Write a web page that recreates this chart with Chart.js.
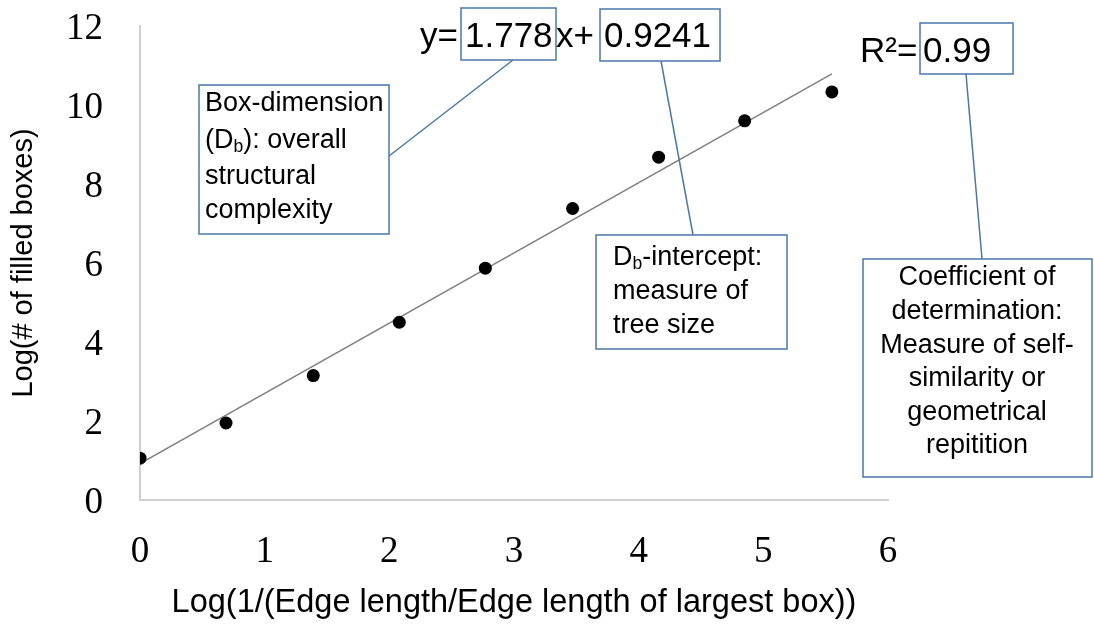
<!DOCTYPE html>
<html>
<head>
<meta charset="utf-8">
<script src="https://cdn.jsdelivr.net/npm/chart.js@4"></script>
<style>
  html, body { margin: 0; padding: 0; background: #fff; }
  #box-chart { display: block; }
</style>
</head>
<body>
<canvas id="box-chart" width="1094" height="628"></canvas>
<script>
// data
const logInvEdge = [0, 0.69, 1.39, 2.08, 2.77, 3.47, 4.16, 4.85, 5.55];
const logFilled = [1.06, 1.95, 3.15, 4.5, 5.87, 7.38, 8.68, 9.6, 10.33];

// trendline ends (y = 1.778x + 0.9241)
const trendX = [0, 5.55];
const trendY = [0.92, 10.79];

const slopeText = "1.778";
const interceptText = "0.9241";
const r2Text = "0.99";

const xTicks = [0, 1, 2, 3, 4, 5, 6];
const yTicks = [0, 2, 4, 6, 8, 10, 12];

const xTitle = "Log(1/(Edge length/Edge length of largest box))";
const yTitle = "Log(# of filled boxes)";

const canvas = document.querySelector("#box-chart");
const ctx = canvas.getContext("2d");

const sans = "'Liberation Sans', Arial, sans-serif";
const serif = "'Liberation Serif', 'Times New Roman', serif";
const blue = "#4a78a8";

// text boxes and leader lines, in canvas pixels
const boxes = [
  [461, 8, 556, 60],
  [600, 9, 720, 61],
  [920, 23, 1013, 74],
  [199, 85, 389, 234],
  [596, 235, 787, 349],
  [863, 259, 1092, 477],
];
const leaders = [
  [513, 60, 389, 156],
  [661, 61, 693, 235],
  [966, 74, 982, 259],
];

// draw a line of text, parts with sub:true are drawn as subscript
const drawRich = (c, parts, x, y, size, align) => {
  let w = 0;
  parts.forEach((p) => {
    c.font = (p.sub ? size * 0.65 : size) + "px " + sans;
    w += c.measureText(p.t).width;
  });
  let cx = align === "center" ? x - w / 2 : x;
  parts.forEach((p) => {
    c.font = (p.sub ? size * 0.65 : size) + "px " + sans;
    c.fillText(p.t, cx, p.sub ? y + size * 0.22 : y);
    cx += c.measureText(p.t).width;
  });
};

const notesPlugin = {
  id: "notes",
  afterDraw(chart) {
    const c = chart.ctx;
    c.save();
    c.strokeStyle = blue;
    c.lineWidth = 1.5;
    leaders.forEach((l) => {
      c.beginPath();
      c.moveTo(l[0], l[1]);
      c.lineTo(l[2], l[3]);
      c.stroke();
    });
    boxes.forEach((b) => {
      c.fillStyle = "#fff";
      c.fillRect(b[0], b[1], b[2] - b[0], b[3] - b[1]);
      c.strokeRect(b[0], b[1], b[2] - b[0], b[3] - b[1]);
    });

    c.fillStyle = "#000";
    c.textBaseline = "alphabetic";
    c.textAlign = "left";
    c.font = "35px " + sans;
    c.fillText("y=", 420, 47);
    c.fillText(slopeText, 465, 47);
    c.fillText("x+", 556, 47);
    c.fillText(interceptText, 604, 47);
    c.fillText("R\u00b2=", 860, 62);
    c.fillText(r2Text, 923, 62);

    c.textBaseline = "middle";
    const fs = 27;
    drawRich(c, [{ t: "Box-dimension" }], 205, 104, fs, "left");
    drawRich(c, [{ t: "(D" }, { t: "b", sub: true }, { t: "): overall" }], 205, 141, fs, "left");
    drawRich(c, [{ t: "structural" }], 205, 177, fs, "left");
    drawRich(c, [{ t: "complexity" }], 205, 211, fs, "left");

    drawRich(c, [{ t: "D" }, { t: "b", sub: true }, { t: "-intercept:" }], 613, 258, fs, "left");
    drawRich(c, [{ t: "measure of" }], 613, 292, fs, "left");
    drawRich(c, [{ t: "tree size" }], 613, 326, fs, "left");

    const coef = ["Coefficient of", "determination:", "Measure of self-", "similarity or", "geometrical", "repitition"];
    coef.forEach((t, i) => {
      drawRich(c, [{ t: t }], 977, 278 + i * 33.6, fs, "center");
    });
    c.restore();
  },
};

new Chart(ctx, {
  type: "scatter",
  data: {
    datasets: [
      {
        label: "points",
        data: logInvEdge.map((x, i) => ({ x: x, y: logFilled[i] })),
        backgroundColor: "#000",
        borderColor: "#000",
        pointRadius: 6.5,
        pointHoverRadius: 6.5,
        borderWidth: 0,
      },
      {
        label: "trend",
        type: "line",
        data: trendX.map((x, i) => ({ x: x, y: trendY[i] })),
        borderColor: "#7f7f7f",
        borderWidth: 1.5,
        pointRadius: 0,
        fill: false,
        tension: 0,
      },
    ],
  },
  options: {
    responsive: false,
    animation: false,
    layout: { padding: { top: 26, right: 206, left: 0, bottom: 0 } },
    plugins: {
      legend: { display: false },
      tooltip: { enabled: false },
    },
    scales: {
      x: {
        type: "linear",
        min: xTicks[0],
        max: xTicks[xTicks.length - 1],
        afterFit: (s) => { s.height = 128; },
        afterBuildTicks: (s) => { s.ticks = xTicks.map((v) => ({ value: v })); },
        grid: { display: false, drawTicks: false },
        border: { display: true, color: "#d0d0d0", width: 2 },
        ticks: { color: "#000", padding: 30, font: { family: serif, size: 37 } },
        title: {
          display: true,
          text: xTitle,
          color: "#000",
          font: { family: sans, size: 32.5 },
          padding: { top: 0, bottom: 5 },
        },
      },
      y: {
        type: "linear",
        min: yTicks[0],
        max: yTicks[yTicks.length - 1],
        afterFit: (s) => { s.width = 140; },
        afterBuildTicks: (s) => { s.ticks = yTicks.map((v) => ({ value: v })); },
        // invisible tick marks give the gap, so label padding does not push the top down
        grid: {
          display: true,
          drawOnChartArea: false,
          drawTicks: true,
          tickLength: 37,
          color: "rgba(0,0,0,0)",
        },
        border: { display: true, color: "#d0d0d0", width: 2 },
        ticks: { color: "#000", padding: 0, labelOffset: 3, font: { family: serif, size: 37 } },
        title: {
          display: true,
          text: yTitle,
          color: "#000",
          font: { family: sans, size: 29 },
          padding: { top: 7, bottom: 0 },
        },
      },
    },
  },
  plugins: [notesPlugin],
});
</script>
</body>
</html>
